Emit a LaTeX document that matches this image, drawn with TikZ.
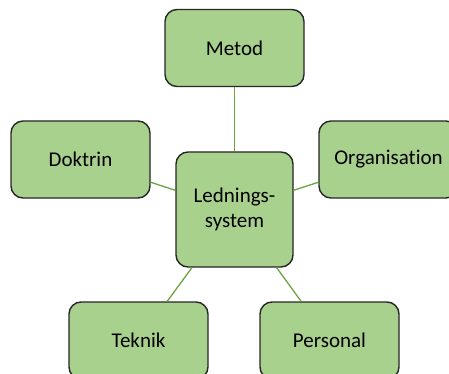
\documentclass[tikz,border=0pt]{standalone}
\usepackage{fontspec}
\setmainfont[Ligatures=NoCommon]{Carlito}
\definecolor{boxfill}{HTML}{A9D18E}
\definecolor{boxline}{HTML}{262626}
\definecolor{linkgreen}{HTML}{6AA542}
\begin{document}
\begin{tikzpicture}[x=1pt,y=-1pt,
  part/.style={draw=boxline, line width=1.4pt, fill=boxfill, rounded corners=12pt,
    minimum width=139pt, minimum height=77pt, inner sep=0pt,
    font=\fontsize{21}{25}\selectfont, align=center, text=black},
  hub/.style={part, minimum width=117pt, minimum height=115pt},
  link/.style={draw=linkgreen, line width=1.3pt}]
\useasboundingbox (0,0) rectangle (449,374);
\node[hub]  (c) at (234.5,209.5) {Lednings-\\system};
\node[part] (metod) at (234.5,48) {Metod};
\node[part] (doktrin) at (80.5,159.5) {Doktrin};
\node[part] (org) at (388.5,159.5) {Organisation};
\node[part] (teknik) at (138.5,340.5) {Teknik};
\node[part] (pers) at (329.5,340.5) {Personal};
\foreach \n in {metod,doktrin,org,teknik,pers}
  \draw[link] (c) -- (\n);
\end{tikzpicture}
\end{document}
